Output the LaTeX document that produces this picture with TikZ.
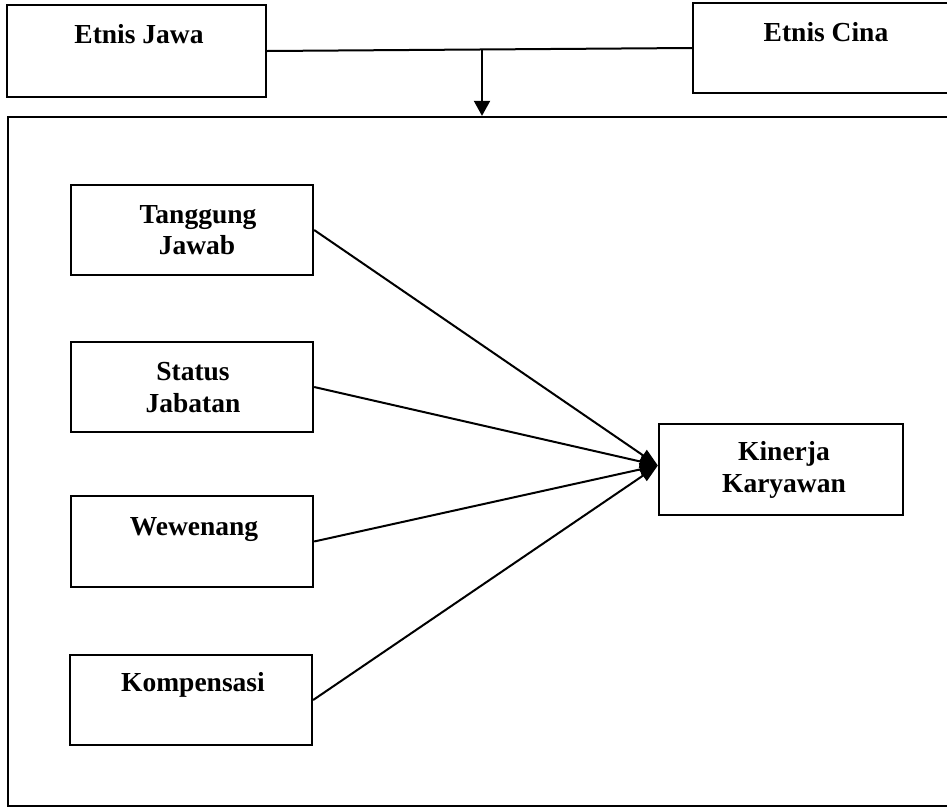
\documentclass[tikz,border=0pt]{standalone}
\usepackage{fontspec}
\setmainfont{Liberation Serif}
\usetikzlibrary{arrows.meta}
\begin{document}
\begin{tikzpicture}[x=1pt,y=-1pt,
  box/.style={draw,line width=2.3pt,rectangle,inner sep=0pt},
  lbl/.style={font=\fontsize{27.5}{33}\selectfont\bfseries,inner sep=0pt,anchor=base},
  line/.style={line width=2pt},
  conn/.style={line width=2pt,-{Triangle[length=18pt,width=13pt]}},
  down/.style={line width=2pt,-{Triangle[length=15pt,width=16pt]}}]
\useasboundingbox (0,0) rectangle (947,809);
\fill[white] (0,0) rectangle (947,809);
% top boxes
\node[box,minimum width=259pt,minimum height=92pt] (ej) at (136.5,51) {};
\node[box,minimum width=259pt,minimum height=90pt] (ec) at (822.5,48) {};
\node[lbl] (ejt) at (139,43) {Etnis Jawa};
\node[lbl] (ect) at (826,41) {Etnis Cina};
% frame
\node[box,minimum width=950pt,minimum height=689pt] (frame) at (483,461.5) {};
% connector between ethnic boxes
\draw[line] (ej.east) -- (ec.west);
\coordinate (j) at (482,50);
\draw[down] (j) -- (j |- frame.north);
% left boxes
\node[box,minimum width=242pt,minimum height=90pt] (tj) at (192,230) {};
\node[box,minimum width=242pt,minimum height=90pt] (sj) at (192,387) {};
\node[box,minimum width=242pt,minimum height=91pt] (we) at (192,541.5) {};
\node[box,minimum width=242pt,minimum height=90pt] (ko) at (191,700) {};
\node[lbl] (tj1) at (198,223) {Tanggung};
\node[lbl] (tj2) at (197,254) {Jawab};
\node[lbl] (sj1) at (193,380) {Status};
\node[lbl] (sj2) at (193,412) {Jabatan};
\node[lbl] (wet) at (194,535) {Wewenang};
\node[lbl] (kot) at (193,691) {Kompensasi};
% target
\node[box,minimum width=244pt,minimum height=91pt] (kk) at (781,469.5) {};
\node[lbl] (kk1) at (784,460) {Kinerja};
\node[lbl] (kk2) at (784,492) {Karyawan};
\coordinate (tip) at ([yshift=4pt]kk.west);
% arrows
\draw[conn] (tj.east) -- (tip);
\draw[conn] (sj.east) -- (tip);
\draw[conn] (we.east) -- (tip);
\draw[conn] (ko.east) -- (tip);
\end{tikzpicture}
\end{document}
